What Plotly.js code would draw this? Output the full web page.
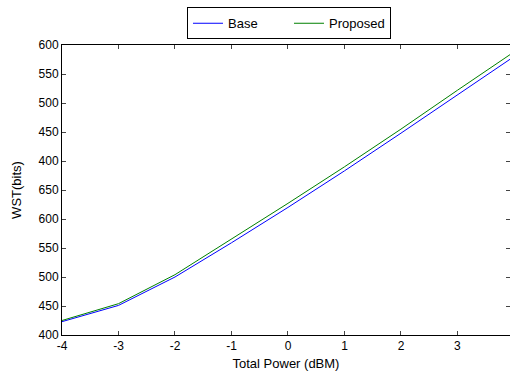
<!DOCTYPE html>
<html>
<head>
<meta charset="utf-8">
<script src="https://cdn.plot.ly/plotly-3.0.1.min.js"></script>
<style>html,body{margin:0;padding:0;background:#fff;}#chart{width:510px;height:374px;}</style>
</head>
<body>
<div id="chart"></div>
<script>
const powerDbm = [-4, -3, -2, -1, 0, 1, 2, 3, 4];
const baseWst = [423, 451, 500, 559, 620, 683, 748, 814, 880];
const proposedWst = [425, 454, 504, 565, 627, 690, 755, 822, 888];
const yTickVals = [400, 450, 500, 550, 600, 650, 700, 750, 800, 850, 900];
const yTickText = ['400', '450', '500', '550', '600', '650', '400', '450', '500', '550', '600'];
const xTickVals = [-4, -3, -2, -1, 0, 1, 2, 3];
const xTickText = ['-4', '-3', '-2', '-1', '0', '1', '2', '3'];

const fam = 'Liberation Sans, Arial, sans-serif';

const traces = [
  {x: powerDbm, y: baseWst, name: 'Base', mode: 'lines', line: {color: '#0000ff', width: 1}},
  {x: powerDbm, y: proposedWst, name: 'Proposed', mode: 'lines', line: {color: '#008000', width: 1}}
];

const layout = {
  width: 510, height: 374,
  margin: {l: 62, r: 0, t: 45, b: 39},
  paper_bgcolor: '#fff', plot_bgcolor: '#fff',
  font: {family: fam, size: 12, color: '#000'},
  showlegend: true,
  legend: {
    orientation: 'h', x: 0.279, xanchor: 'left', y: 1.13, yanchor: 'top',
    bordercolor: '#000', borderwidth: 1, bgcolor: '#fff',
    font: {family: fam, size: 13, color: '#000'},
    itemwidth: 30, tracegroupgap: 0, entrywidthmode: 'pixels', entrywidth: 56
  },
  xaxis: {
    range: [-4, 3.93], tickvals: xTickVals, ticktext: xTickText, ticks: 'inside', ticklen: 4,
    showline: true, linecolor: '#000', linewidth: 1, mirror: 'ticks',
    showgrid: false, zeroline: false,
    tickfont: {family: fam, size: 12, color: '#000'},
    title: {text: 'Total Power (dBM)', font: {family: fam, size: 13, color: '#000'}, standoff: 6}
  },
  yaxis: {
    range: [400, 900], tickvals: yTickVals, ticktext: yTickText, ticks: 'inside', ticklen: 4,
    showline: true, linecolor: '#000', linewidth: 1, mirror: 'ticks',
    showgrid: false, zeroline: false,
    tickfont: {family: fam, size: 12, color: '#000'},
    title: {text: 'WST(bits)', font: {family: fam, size: 13, color: '#000'}, standoff: 14}
  }
};

Plotly.newPlot('chart', traces, layout, {staticPlot: true, displayModeBar: false});
</script>
</body>
</html>
